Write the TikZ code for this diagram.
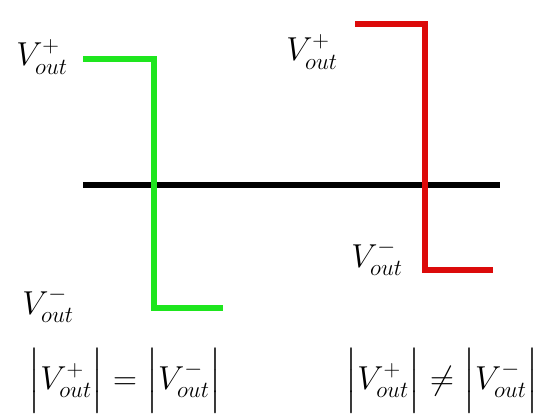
\documentclass[tikz,border=0pt]{standalone}
\usepackage{amsmath,amssymb}
\usetikzlibrary{positioning}
\definecolor{sqgreen}{HTML}{1EE61E}
\definecolor{sqred}{HTML}{DC0A0A}

\begin{document}
\begin{tikzpicture}[
  x=0.75pt, y=-0.75pt,
  wave/.style={line width=4.5pt},
  lbl/.style={font=\fontsize{27}{32}\selectfont, inner sep=0pt},
]
\useasboundingbox (0,0) rectangle (538,417);

% Axis
\draw[black, line width=4.5pt] (83,185) -- (500,185);

% Symmetric swing (green)
\draw[wave, sqgreen] (83,59) -- (154,59) -- (154,308) -- (223,308);
\node[lbl] (gplus) at (42,57) {$V^{+}_{out}$};
\node[lbl] (gminus) at (48,305) {$V^{-}_{out}$};

% Asymmetric swing (red)
\draw[wave, sqred] (355,24) -- (425,24) -- (425,270) -- (493,270);
\node[lbl] (rplus) at (312,52) {$V^{+}_{out}$};
\node[lbl] (rminus) at (377,258) {$V^{-}_{out}$};

% Conditions
\node[lbl] (geq) at (125,381) {$\Bigl|V^{+}_{out}\Bigr| = \Bigl|V^{-}_{out}\Bigr|$};
\node[lbl] (rneq) at (442,381) {$\Bigl|V^{+}_{out}\Bigr| \neq \Bigl|V^{-}_{out}\Bigr|$};

\end{tikzpicture}
\end{document}
